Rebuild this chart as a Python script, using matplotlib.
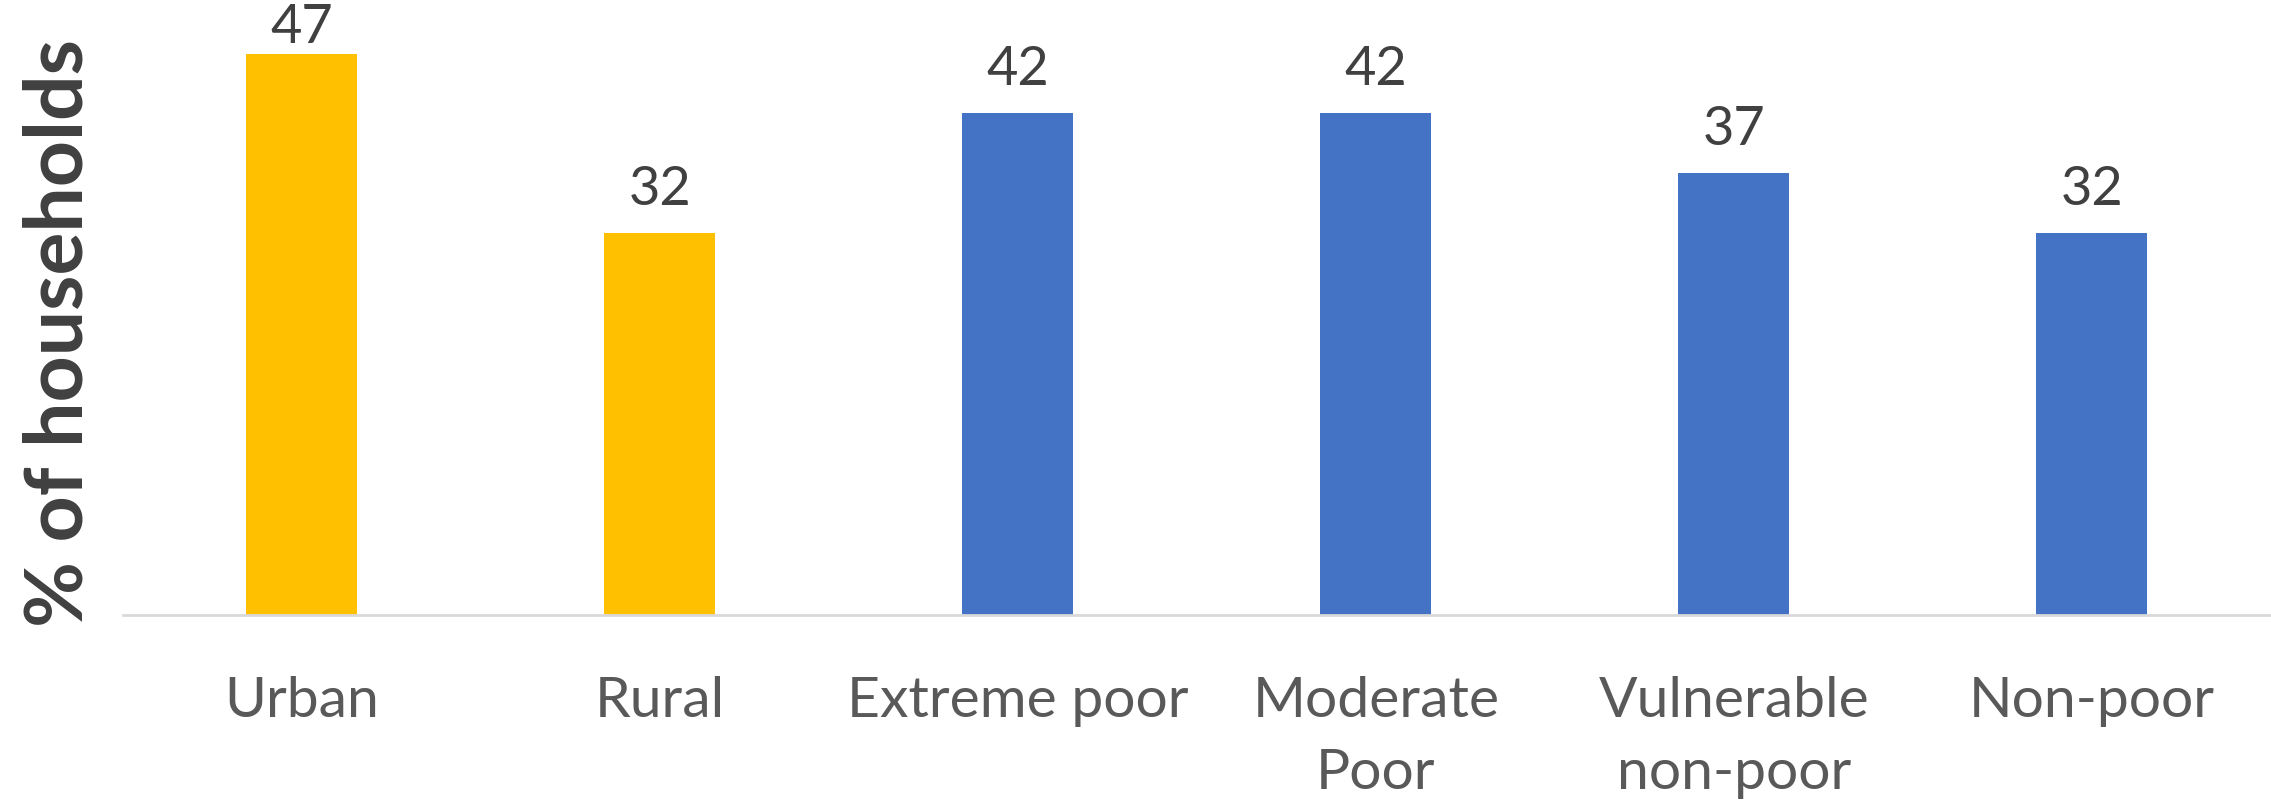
import matplotlib
matplotlib.use("Agg")
import matplotlib.pyplot as plt

categories = ["Urban", "Rural", "Extreme poor", "Moderate\nPoor", "Vulnerable\nnon-poor", "Non-poor"]
values = [47, 32, 42, 42, 37, 32]
bar_colors = ["#FFC000", "#FFC000", "#4472C4", "#4472C4", "#4472C4", "#4472C4"]

plt.rcParams["font.family"] = ["Lato", "DejaVu Sans"]

fig = plt.figure(figsize=(22.71, 8.05), dpi=100)
ax = fig.add_axes([0.054, 0.236, 0.946, 0.742])

x = range(len(categories))
bars = ax.bar(x, values, width=0.31, color=bar_colors, zorder=2)

# value labels above the bars, pulled down when they would leave the figure
for xi, v in zip(x, values):
    ax.text(xi, min(v + 1.6, 47.1), f"{v}", ha="center", va="bottom",
            fontsize=39, color="#404040", clip_on=False)

ax.set_xlim(-0.5, len(categories) - 0.5)
ax.set_ylim(0, 50)
ax.set_xticks(list(x))
ax.set_xticklabels(categories, fontsize=41, color="#595959", linespacing=1.5)
ax.tick_params(axis="x", length=0, pad=44)
ax.set_yticks([])

for s in ["top", "right", "left"]:
    ax.spines[s].set_visible(False)
ax.spines["bottom"].set_color("#d9d9d9")
ax.spines["bottom"].set_linewidth(2)

fig.text(0.026, 0.586, "% of households", rotation=90, ha="center", va="center",
         fontsize=58, fontweight="bold", color="#404040")

fig.savefig("out.png", dpi=100)
